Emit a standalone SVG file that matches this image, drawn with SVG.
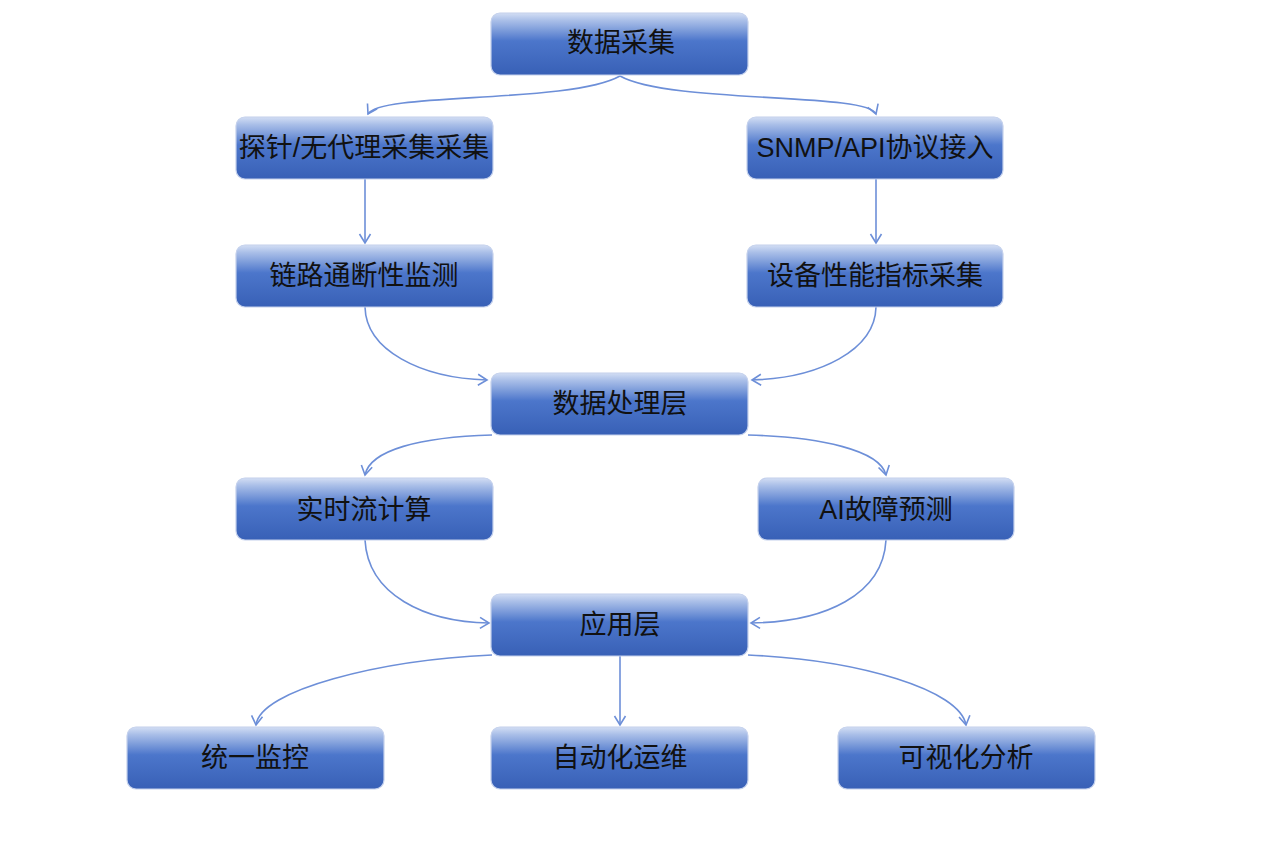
<svg xmlns="http://www.w3.org/2000/svg" width="1283" height="842" viewBox="0 0 1283 842">
<defs>
<linearGradient id="g" x1="0" y1="0" x2="0" y2="1">
<stop offset="0" stop-color="#d3def4"/>
<stop offset="0.12" stop-color="#aabfe8"/>
<stop offset="0.45" stop-color="#4c76cb"/>
<stop offset="1" stop-color="#3860b6"/>
</linearGradient>
<marker id="a" markerWidth="14" markerHeight="14" refX="11" refY="7" orient="auto" markerUnits="userSpaceOnUse">
<path d="M2,1.5 L11,7 L2,12.5" fill="none" stroke="#6d8fd8" stroke-width="1.6"/>
</marker>
</defs>
<style>
.n rect{fill:url(#g);stroke:#c3d0ec;stroke-width:1.2}
.n text{font-family:"Liberation Sans","Noto Sans CJK SC",sans-serif;font-size:27px;fill:#111;text-anchor:middle;dominant-baseline:central}
.c path{fill:none;stroke:#6d8fd8;stroke-width:1.6;marker-end:url(#a)}
</style>
<rect width="1283" height="842" fill="#fff"/>
<g class="c" id="connectors">
<path d="M620,76 C570,104 380,92 368,114"/>
<path d="M620,76 C670,104 868,92 876,114"/>
<path d="M365,179 L365,243"/>
<path d="M876,179 L876,243"/>
<path d="M365,307 C366,350 420,378 487,380"/>
<path d="M876,307 C875,350 820,378 752,380"/>
<path d="M492,435 C420,437 370,450 365,475"/>
<path d="M748,435 C820,437 880,450 886,475"/>
<path d="M365,540 C368,595 425,622 489,623"/>
<path d="M886,540 C883,595 825,622 751,623"/>
<path d="M492,655 C380,660 260,690 256,725"/>
<path d="M620,656 L620,725"/>
<path d="M748,655 C860,660 960,690 966,725"/>
</g>
<g class="n" id="n1"><rect x="491" y="13" width="257" height="62" rx="9"/><text x="621" y="43">数据采集</text></g>
<g class="n" id="n2"><rect x="236" y="117" width="257" height="62" rx="9"/><text x="364" y="148">探针/无代理采集采集</text></g>
<g class="n" id="n3"><rect x="747" y="117" width="256" height="62" rx="9"/><text x="875" y="148">SNMP/API协议接入</text></g>
<g class="n" id="n4"><rect x="236" y="245" width="257" height="62" rx="9"/><text x="364" y="276">链路通断性监测</text></g>
<g class="n" id="n5"><rect x="747" y="245" width="256" height="62" rx="9"/><text x="875" y="276">设备性能指标采集</text></g>
<g class="n" id="n6"><rect x="491" y="373" width="257" height="62" rx="9"/><text x="620" y="404">数据处理层</text></g>
<g class="n" id="n7"><rect x="236" y="478" width="257" height="62" rx="9"/><text x="364" y="510">实时流计算</text></g>
<g class="n" id="n8"><rect x="758" y="478" width="256" height="62" rx="9"/><text x="886" y="510">AI故障预测</text></g>
<g class="n" id="n9"><rect x="491" y="594" width="257" height="62" rx="9"/><text x="620" y="625">应用层</text></g>
<g class="n" id="n10"><rect x="127" y="727" width="257" height="62" rx="9"/><text x="255" y="758">统一监控</text></g>
<g class="n" id="n11"><rect x="491" y="727" width="257" height="62" rx="9"/><text x="620" y="758">自动化运维</text></g>
<g class="n" id="n12"><rect x="838" y="727" width="257" height="62" rx="9"/><text x="966" y="758">可视化分析</text></g>
</svg>
